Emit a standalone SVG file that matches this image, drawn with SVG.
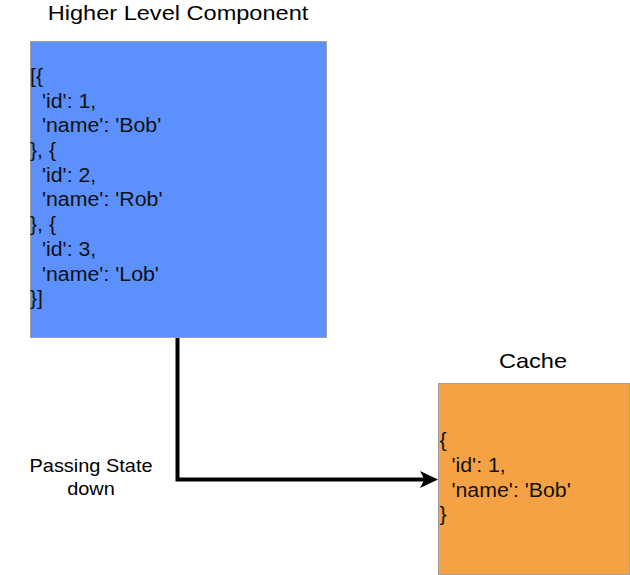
<svg xmlns="http://www.w3.org/2000/svg" width="630" height="575" viewBox="0 0 630 575">
<style>
  .title { font-family: "Liberation Sans", Arial, sans-serif; font-size: 20.5px; fill: #000; text-anchor: middle; }
  .code { font-family: "Liberation Sans", Arial, sans-serif; font-size: 20.5px; fill: #111; }
  .lbl { font-family: "Liberation Sans", Arial, sans-serif; font-size: 19px; fill: #000; text-anchor: middle; }
  .box { stroke: #a0a0a0; stroke-width: 1; }
</style>
<defs>
  <marker id="arrow" markerWidth="18" markerHeight="18" refX="10" refY="9" orient="auto" markerUnits="userSpaceOnUse" viewBox="0 0 18 18">
    <path d="M0,0.5 L18,9 L0,17.5 L4.5,9 Z" fill="#000"/>
  </marker>
</defs>
<rect width="630" height="575" fill="#fff"/>
<g id="higher-level-component">
  <rect class="box" x="30.5" y="41.5" width="296" height="296" fill="#5b90fd"/>
  <text class="title" transform="translate(178,19.5) scale(1.15,1)" x="0" y="0">Higher Level Component</text>
  <g transform="translate(30,0) scale(1.04,1)">
    <text class="code" x="0" y="83">[{</text>
    <text class="code" x="11.5" y="107.7">'id': 1,</text>
    <text class="code" x="11.5" y="132.4">'name': 'Bob'</text>
    <text class="code" x="0" y="157.1">}, {</text>
    <text class="code" x="11.5" y="181.8">'id': 2,</text>
    <text class="code" x="11.5" y="206.5">'name': 'Rob'</text>
    <text class="code" x="0" y="231.2">}, {</text>
    <text class="code" x="11.5" y="255.9">'id': 3,</text>
    <text class="code" x="11.5" y="280.6">'name': 'Lob'</text>
    <text class="code" x="0" y="305.3">}]</text>
  </g>
</g>
<g id="cache">
  <rect class="box" x="438.5" y="383.5" width="191" height="191" fill="#f5a244"/>
  <text class="title" transform="translate(533,368) scale(1.15,1)" x="0" y="0">Cache</text>
  <g transform="translate(439.5,0) scale(1.04,1)">
    <text class="code" x="0" y="447.5">{</text>
    <text class="code" x="11.5" y="472.5">'id': 1,</text>
    <text class="code" x="11.5" y="497">'name': 'Bob'</text>
    <text class="code" x="0" y="521.5">}</text>
  </g>
</g>
<g id="connectors">
  <path d="M177.5,338 L177.5,479.5 L430,479.5" fill="none" stroke="#000" stroke-width="4" marker-end="url(#arrow)"/>
  <g transform="translate(91,0) scale(1.05,1)">
    <text class="lbl" x="0" y="472">Passing State</text>
    <text class="lbl" x="0" y="495">down</text>
  </g>
</g>
</svg>
